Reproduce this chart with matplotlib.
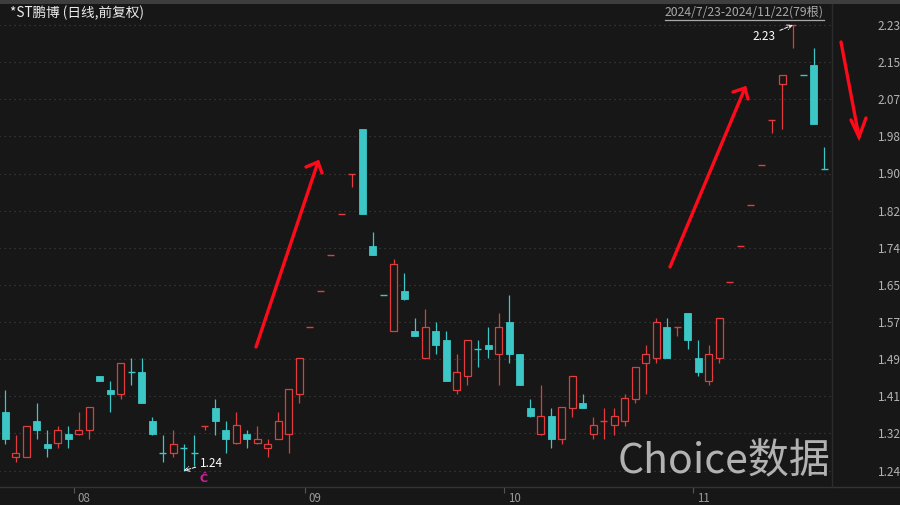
import matplotlib.pyplot as plt
from matplotlib.patches import Rectangle
import numpy as np

plt.rcParams['font.family'] = ['Noto Sans CJK SC', 'DejaVu Sans']

# daily bars, 2024/7/23 - 2024/11/22
opens = [1.37, 1.27, 1.27, 1.35, 1.30, 1.30, 1.32, 1.32, 1.33, 1.45,
         1.42, 1.41, 1.46, 1.46, 1.35, 1.28, 1.28, 1.29, 1.28, 1.34,
         1.38, 1.33, 1.30, 1.32, 1.30, 1.29, 1.31, 1.32, 1.41, 1.56,
         1.64, 1.72, 1.81, 1.90, 2.00, 1.74, 1.63, 1.55, 1.64, 1.55,
         1.49, 1.55, 1.53, 1.42, 1.45, 1.51, 1.52, 1.50, 1.57, 1.50,
         1.38, 1.32, 1.36, 1.31, 1.38, 1.39, 1.32, 1.35, 1.34, 1.35,
         1.40, 1.48, 1.49, 1.56, 1.56, 1.59, 1.49, 1.44, 1.49, 1.66,
         1.74, 1.83, 1.92, 2.02, 2.10, 2.23, 2.12, 2.14, 1.91]
highs = [1.42, 1.32, 1.34, 1.39, 1.33, 1.34, 1.34, 1.37, 1.38, 1.45,
         1.44, 1.48, 1.49, 1.49, 1.36, 1.32, 1.33, 1.30, 1.32, 1.34,
         1.40, 1.35, 1.37, 1.33, 1.34, 1.31, 1.37, 1.42, 1.49, 1.56,
         1.64, 1.72, 1.81, 1.90, 2.00, 1.77, 1.63, 1.71, 1.68, 1.58,
         1.60, 1.57, 1.55, 1.50, 1.53, 1.53, 1.56, 1.59, 1.63, 1.50,
         1.40, 1.43, 1.38, 1.38, 1.45, 1.41, 1.36, 1.38, 1.38, 1.41,
         1.47, 1.52, 1.58, 1.58, 1.56, 1.59, 1.53, 1.52, 1.58, 1.66,
         1.74, 1.83, 1.92, 2.02, 2.12, 2.23, 2.12, 2.18, 1.96]
lows = [1.30, 1.26, 1.27, 1.31, 1.27, 1.29, 1.29, 1.32, 1.31, 1.44,
        1.37, 1.40, 1.43, 1.39, 1.32, 1.26, 1.27, 1.24, 1.25, 1.33,
        1.32, 1.28, 1.30, 1.29, 1.30, 1.27, 1.31, 1.28, 1.39, 1.56,
        1.64, 1.72, 1.81, 1.87, 1.81, 1.72, 1.63, 1.55, 1.62, 1.54,
        1.49, 1.50, 1.44, 1.41, 1.43, 1.47, 1.49, 1.43, 1.48, 1.43,
        1.36, 1.32, 1.29, 1.30, 1.36, 1.38, 1.31, 1.31, 1.32, 1.34,
        1.39, 1.41, 1.48, 1.49, 1.54, 1.51, 1.45, 1.43, 1.48, 1.66,
        1.74, 1.83, 1.92, 1.99, 2.00, 2.18, 2.12, 2.01, 1.91]
closes = [1.31, 1.28, 1.34, 1.33, 1.29, 1.33, 1.31, 1.33, 1.38, 1.44,
          1.41, 1.48, 1.46, 1.39, 1.32, 1.28, 1.30, 1.29, 1.28, 1.34,
          1.35, 1.31, 1.34, 1.31, 1.31, 1.30, 1.35, 1.42, 1.49, 1.56,
          1.64, 1.72, 1.81, 1.90, 1.81, 1.72, 1.63, 1.70, 1.62, 1.54,
          1.56, 1.52, 1.44, 1.46, 1.53, 1.51, 1.51, 1.56, 1.50, 1.43,
          1.36, 1.36, 1.31, 1.38, 1.45, 1.38, 1.34, 1.35, 1.36, 1.40,
          1.47, 1.50, 1.57, 1.49, 1.56, 1.53, 1.46, 1.50, 1.58, 1.66,
          1.74, 1.83, 1.92, 2.02, 2.12, 2.23, 2.12, 2.01, 1.91]

month_labels = ['08', '09', '10', '11']
month_first_bar = [7, 29, 48, 66]
price_labels = ['1.24', '1.32', '1.41', '1.49', '1.57', '1.65', '1.74',
                '1.82', '1.90', '1.98', '2.07', '2.15', '2.23']
low_idx, high_idx = 17, 75

bg = '#171717'
red = '#e23c3e'
cyan = '#3cc6c6'
W, H = 900, 505

fig = plt.figure(figsize=(W / 100, H / 100), dpi=100, facecolor=bg)

# price panel: 2.23 sits at y=25px, 1.24 at y=470.5px
ax = fig.add_axes([0, 18 / H, 832 / W, 483 / H], facecolor=bg)
ppx = (2.23 - 1.24) / 445.5
ax.set_ylim(1.24 - (487 - 470.5) * ppx, 2.23 + (25 - 4) * ppx)
ax.set_xlim(-5.3 / 10.5, (832 - 5.3) / 10.5)
for s in ax.spines.values():
    s.set_visible(False)

yt = np.linspace(1.24, 2.23, len(price_labels))
ax.hlines(yt, -1, 80, colors='#444444', linestyles=(0, (1, 3.5)), lw=0.8, zorder=0)
ax.yaxis.tick_right()
ax.set_yticks(yt)
ax.set_yticklabels(price_labels, fontsize=8.5, color='#b4b4b4')
ax.tick_params(axis='y', length=0, pad=33)
ax.tick_params(axis='x', length=4, color='#555555', width=0.8)
ax.set_xticks([m - 0.5 for m in month_first_bar])
ax.set_xticklabels([])
for m, lab in zip(month_first_bar, month_labels):
    ax.text(m - 0.15, -0.024, lab, transform=ax.get_xaxis_transform(),
            fontsize=8.3, color='#9a9a9a', ha='left', va='center', clip_on=False)

bw = 0.66
for i in range(len(opens)):
    o, h, l, c = opens[i], highs[i], lows[i], closes[i]
    prev = closes[i - 1] if i > 0 else o
    up = c > o or (c == o and c >= prev)
    col = red if up else cyan
    ax.vlines(i, l, h, colors=col, lw=0.9, zorder=2)
    if c == o:
        ax.hlines(o, i - bw / 2, i + bw / 2, colors=col, lw=1.0, zorder=3)
    elif up:
        ax.add_patch(Rectangle((i - bw / 2, o), bw, c - o, facecolor=bg,
                               edgecolor=col, lw=0.9, zorder=3))
    else:
        ax.add_patch(Rectangle((i - bw / 2, c), bw, o - c, facecolor=col,
                               edgecolor=col, lw=0.6, zorder=3))

# min / max markers
ax.annotate('1.24', xy=(low_idx, lows[low_idx]), xytext=(16, 7),
            textcoords='offset pixels', fontsize=8.5, color='white',
            ha='left', va='center',
            arrowprops=dict(arrowstyle='->', color='white', lw=0.7, ls='--',
                            relpos=(0, 0.3), shrinkA=1, shrinkB=0))
ax.annotate('2.23', xy=(high_idx, highs[high_idx]), xytext=(-17, -11),
            textcoords='offset pixels', fontsize=8.5, color='white',
            ha='right', va='center',
            arrowprops=dict(arrowstyle='->', color='white', lw=0.7, ls='--',
                            relpos=(1, 0.8), shrinkA=1, shrinkB=0))

# overlay in pixel coordinates for frame, titles, drawn arrows
ov = fig.add_axes([0, 0, 1, 1], zorder=5)
ov.set_xlim(0, W)
ov.set_ylim(H, 0)
ov.axis('off')
ov.patch.set_alpha(0)
ov.add_patch(Rectangle((0, 0), W, 3.5, color='#3e3e3e', lw=0))
ov.plot([0, W], [487, 487], color='#343434', lw=1)
ov.plot([832, 832], [3.5, 487], color='#2c2c2c', lw=1)

ov.text(10, 13, '*ST鹏博 (日线,前复权)', fontsize=9.8, color='#ececec',
        ha='left', va='center')
dr = ov.text(824, 12.5, '2024/7/23-2024/11/22(79根)', fontsize=8.8,
             color='#a8a8a8', ha='right', va='center')
fig.canvas.draw()
bb = dr.get_window_extent()
ov.plot([bb.x0, bb.x1], [19.5, 19.5], color='#a8a8a8', lw=0.9)

ov.text(204, 479, 'Ĉ', fontsize=8, color='#d4209a', ha='center', va='center',
        fontweight='bold')
ov.text(831, 462, 'Choice数据', fontsize=29.5, color='#c4c4c4', alpha=0.9,
        ha='right', va='center')

# hand-drawn red arrows
arrows = [((256, 347), (318, 162), (306, 167), (322, 173)),
          ((670, 267), (745, 88), (733, 92), (748, 99)),
          ((841, 42), (859, 137), (851, 120), (866, 118))]
for start, tip, w1, w2 in arrows:
    ov.plot([start[0], tip[0]], [start[1], tip[1]], color='#ff0a1a', lw=2.4,
            solid_capstyle='round')
    ov.plot([w1[0], tip[0], w2[0]], [w1[1], tip[1], w2[1]], color='#ff0a1a',
            lw=2.4, solid_capstyle='round', solid_joinstyle='miter')

fig.savefig('out.png', dpi=100, facecolor=bg)
